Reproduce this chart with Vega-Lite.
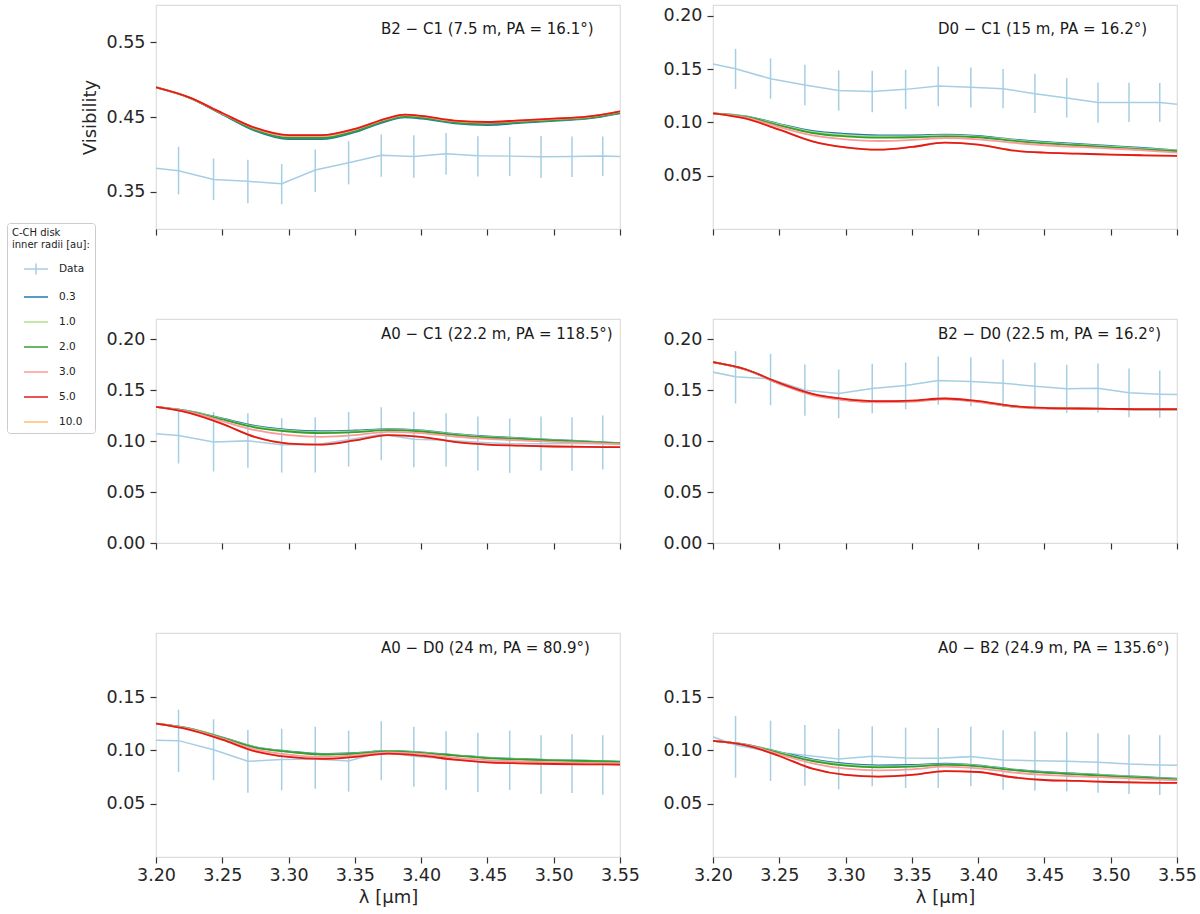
{
"$schema": "https://vega.github.io/schema/vega-lite/v6.json",
"padding": {"left": 5, "top": 4, "right": 5, "bottom": 5},
"datasets": {
"obs": [
{"b":"B2-C1","s":"Data","x":3.1905,"v":0.383,"lo":0.351,"hi":0.415},
{"b":"B2-C1","s":"Data","x":3.217,"v":0.378,"lo":0.3464,"hi":0.41},
{"b":"B2-C1","s":"Data","x":3.2434,"v":0.3664,"lo":0.3389,"hi":0.3944},
{"b":"B2-C1","s":"Data","x":3.2693,"v":0.3638,"lo":0.3344,"hi":0.3927},
{"b":"B2-C1","s":"Data","x":3.2948,"v":0.3607,"lo":0.3331,"hi":0.3869},
{"b":"B2-C1","s":"Data","x":3.3201,"v":0.3789,"lo":0.3496,"hi":0.4064},
{"b":"B2-C1","s":"Data","x":3.3453,"v":0.3887,"lo":0.3598,"hi":0.4176},
{"b":"B2-C1","s":"Data","x":3.3699,"v":0.3989,"lo":0.37,"hi":0.4264},
{"b":"B2-C1","s":"Data","x":3.3945,"v":0.3971,"lo":0.3687,"hi":0.4256},
{"b":"B2-C1","s":"Data","x":3.4188,"v":0.4007,"lo":0.3727,"hi":0.4287},
{"b":"B2-C1","s":"Data","x":3.4428,"v":0.398,"lo":0.3704,"hi":0.4242},
{"b":"B2-C1","s":"Data","x":3.4668,"v":0.3976,"lo":0.3709,"hi":0.4233},
{"b":"B2-C1","s":"Data","x":3.4904,"v":0.3967,"lo":0.3682,"hi":0.4247},
{"b":"B2-C1","s":"Data","x":3.5138,"v":0.3971,"lo":0.3696,"hi":0.4238},
{"b":"B2-C1","s":"Data","x":3.537,"v":0.3976,"lo":0.3709,"hi":0.4238},
{"b":"B2-C1","s":"Data","x":3.56,"v":0.3965,"lo":0.37,"hi":0.423},
{"b":"D0-C1","s":"Data","x":3.1905,"v":0.1571,"lo":0.138,"hi":0.176},
{"b":"D0-C1","s":"Data","x":3.217,"v":0.1502,"lo":0.1312,"hi":0.1689},
{"b":"D0-C1","s":"Data","x":3.2434,"v":0.1409,"lo":0.1221,"hi":0.1599},
{"b":"D0-C1","s":"Data","x":3.2693,"v":0.1349,"lo":0.1159,"hi":0.154},
{"b":"D0-C1","s":"Data","x":3.2948,"v":0.1299,"lo":0.1109,"hi":0.1487},
{"b":"D0-C1","s":"Data","x":3.3201,"v":0.129,"lo":0.1094,"hi":0.1483},
{"b":"D0-C1","s":"Data","x":3.3453,"v":0.1309,"lo":0.1125,"hi":0.1493},
{"b":"D0-C1","s":"Data","x":3.3699,"v":0.134,"lo":0.115,"hi":0.1524},
{"b":"D0-C1","s":"Data","x":3.3945,"v":0.1328,"lo":0.114,"hi":0.1515},
{"b":"D0-C1","s":"Data","x":3.4188,"v":0.1315,"lo":0.1131,"hi":0.1499},
{"b":"D0-C1","s":"Data","x":3.4428,"v":0.1268,"lo":0.1087,"hi":0.1455},
{"b":"D0-C1","s":"Data","x":3.4668,"v":0.1228,"lo":0.1044,"hi":0.1415},
{"b":"D0-C1","s":"Data","x":3.4904,"v":0.1187,"lo":0.0997,"hi":0.1374},
{"b":"D0-C1","s":"Data","x":3.5138,"v":0.1187,"lo":0.1003,"hi":0.1371},
{"b":"D0-C1","s":"Data","x":3.537,"v":0.1187,"lo":0.1003,"hi":0.1368},
{"b":"D0-C1","s":"Data","x":3.56,"v":0.1155,"lo":0.098,"hi":0.135},
{"b":"A0-C1","s":"Data","x":3.1905,"v":0.1082,"lo":0.08,"hi":0.136},
{"b":"A0-C1","s":"Data","x":3.217,"v":0.1056,"lo":0.0781,"hi":0.1327},
{"b":"A0-C1","s":"Data","x":3.2434,"v":0.0993,"lo":0.0702,"hi":0.1288},
{"b":"A0-C1","s":"Data","x":3.2693,"v":0.1003,"lo":0.0738,"hi":0.1275},
{"b":"A0-C1","s":"Data","x":3.2948,"v":0.0964,"lo":0.0692,"hi":0.1226},
{"b":"A0-C1","s":"Data","x":3.3201,"v":0.0964,"lo":0.0692,"hi":0.1236},
{"b":"A0-C1","s":"Data","x":3.3453,"v":0.1013,"lo":0.0751,"hi":0.1288},
{"b":"A0-C1","s":"Data","x":3.3699,"v":0.1069,"lo":0.0813,"hi":0.1334},
{"b":"A0-C1","s":"Data","x":3.3945,"v":0.102,"lo":0.0745,"hi":0.1288},
{"b":"A0-C1","s":"Data","x":3.4188,"v":0.101,"lo":0.0751,"hi":0.1275},
{"b":"A0-C1","s":"Data","x":3.4428,"v":0.099,"lo":0.0712,"hi":0.1242},
{"b":"A0-C1","s":"Data","x":3.4668,"v":0.0974,"lo":0.0689,"hi":0.1223},
{"b":"A0-C1","s":"Data","x":3.4904,"v":0.0974,"lo":0.0709,"hi":0.1242},
{"b":"A0-C1","s":"Data","x":3.5138,"v":0.0977,"lo":0.0709,"hi":0.1236},
{"b":"A0-C1","s":"Data","x":3.537,"v":0.0974,"lo":0.0722,"hi":0.1252},
{"b":"A0-C1","s":"Data","x":3.56,"v":0.0974,"lo":0.07,"hi":0.125},
{"b":"B2-D0","s":"Data","x":3.1905,"v":0.1704,"lo":0.145,"hi":0.195},
{"b":"B2-D0","s":"Data","x":3.217,"v":0.1632,"lo":0.137,"hi":0.1884},
{"b":"B2-D0","s":"Data","x":3.2434,"v":0.1612,"lo":0.1354,"hi":0.1858},
{"b":"B2-D0","s":"Data","x":3.2693,"v":0.1501,"lo":0.1249,"hi":0.1753},
{"b":"B2-D0","s":"Data","x":3.2948,"v":0.1468,"lo":0.1226,"hi":0.1704},
{"b":"B2-D0","s":"Data","x":3.3201,"v":0.1517,"lo":0.1275,"hi":0.176},
{"b":"B2-D0","s":"Data","x":3.3453,"v":0.1547,"lo":0.1314,"hi":0.1773},
{"b":"B2-D0","s":"Data","x":3.3699,"v":0.1596,"lo":0.1357,"hi":0.1832},
{"b":"B2-D0","s":"Data","x":3.3945,"v":0.1586,"lo":0.1344,"hi":0.1825},
{"b":"B2-D0","s":"Data","x":3.4188,"v":0.157,"lo":0.1334,"hi":0.1802},
{"b":"B2-D0","s":"Data","x":3.4428,"v":0.154,"lo":0.1311,"hi":0.1773},
{"b":"B2-D0","s":"Data","x":3.4668,"v":0.1514,"lo":0.1278,"hi":0.175},
{"b":"B2-D0","s":"Data","x":3.4904,"v":0.1521,"lo":0.1282,"hi":0.1763},
{"b":"B2-D0","s":"Data","x":3.5138,"v":0.1475,"lo":0.1236,"hi":0.1714},
{"b":"B2-D0","s":"Data","x":3.537,"v":0.1462,"lo":0.1229,"hi":0.1694},
{"b":"B2-D0","s":"Data","x":3.56,"v":0.1455,"lo":0.122,"hi":0.169},
{"b":"A0-D0","s":"Data","x":3.1905,"v":0.1095,"lo":0.08,"hi":0.139},
{"b":"A0-D0","s":"Data","x":3.217,"v":0.1091,"lo":0.0797,"hi":0.1381},
{"b":"A0-D0","s":"Data","x":3.2434,"v":0.1006,"lo":0.0719,"hi":0.1291},
{"b":"A0-D0","s":"Data","x":3.2693,"v":0.0897,"lo":0.0603,"hi":0.1191},
{"b":"A0-D0","s":"Data","x":3.2948,"v":0.0913,"lo":0.0625,"hi":0.1203},
{"b":"A0-D0","s":"Data","x":3.3201,"v":0.0919,"lo":0.0641,"hi":0.1222},
{"b":"A0-D0","s":"Data","x":3.3453,"v":0.09,"lo":0.0613,"hi":0.1184},
{"b":"A0-D0","s":"Data","x":3.3699,"v":0.0984,"lo":0.0719,"hi":0.1272},
{"b":"A0-D0","s":"Data","x":3.3945,"v":0.0944,"lo":0.0659,"hi":0.1222},
{"b":"A0-D0","s":"Data","x":3.4188,"v":0.0922,"lo":0.0628,"hi":0.1178},
{"b":"A0-D0","s":"Data","x":3.4428,"v":0.0897,"lo":0.0609,"hi":0.1166},
{"b":"A0-D0","s":"Data","x":3.4668,"v":0.0897,"lo":0.0628,"hi":0.1184},
{"b":"A0-D0","s":"Data","x":3.4904,"v":0.0888,"lo":0.0591,"hi":0.1141},
{"b":"A0-D0","s":"Data","x":3.5138,"v":0.0881,"lo":0.06,"hi":0.115},
{"b":"A0-D0","s":"Data","x":3.537,"v":0.0881,"lo":0.0584,"hi":0.1141},
{"b":"A0-D0","s":"Data","x":3.56,"v":0.088,"lo":0.058,"hi":0.114},
{"b":"A0-B2","s":"Data","x":3.1905,"v":0.1169,"lo":0.087,"hi":0.146},
{"b":"A0-B2","s":"Data","x":3.217,"v":0.105,"lo":0.0744,"hi":0.1322},
{"b":"A0-B2","s":"Data","x":3.2434,"v":0.0988,"lo":0.0713,"hi":0.1278},
{"b":"A0-B2","s":"Data","x":3.2693,"v":0.0953,"lo":0.0669,"hi":0.1238},
{"b":"A0-B2","s":"Data","x":3.2948,"v":0.0919,"lo":0.0634,"hi":0.12},
{"b":"A0-B2","s":"Data","x":3.3201,"v":0.0944,"lo":0.0663,"hi":0.1225},
{"b":"A0-B2","s":"Data","x":3.3453,"v":0.0928,"lo":0.0647,"hi":0.1213},
{"b":"A0-B2","s":"Data","x":3.3699,"v":0.0925,"lo":0.0647,"hi":0.1209},
{"b":"A0-B2","s":"Data","x":3.3945,"v":0.0941,"lo":0.0663,"hi":0.1222},
{"b":"A0-B2","s":"Data","x":3.4188,"v":0.0909,"lo":0.0631,"hi":0.1188},
{"b":"A0-B2","s":"Data","x":3.4428,"v":0.0903,"lo":0.0622,"hi":0.1178},
{"b":"A0-B2","s":"Data","x":3.4668,"v":0.0897,"lo":0.0616,"hi":0.1172},
{"b":"A0-B2","s":"Data","x":3.4904,"v":0.0888,"lo":0.0603,"hi":0.1159},
{"b":"A0-B2","s":"Data","x":3.5138,"v":0.0872,"lo":0.0591,"hi":0.1147},
{"b":"A0-B2","s":"Data","x":3.537,"v":0.0863,"lo":0.0581,"hi":0.1141},
{"b":"A0-B2","s":"Data","x":3.56,"v":0.0858,"lo":0.058,"hi":0.114}
],
"mod": [
{"b":"B2-C1","s":"0.3","x":3.2,"v":0.4896},{"b":"B2-C1","s":"0.3","x":3.225,"v":0.4758},{"b":"B2-C1","s":"0.3","x":3.25,"v":0.4535},{"b":"B2-C1","s":"0.3","x":3.275,"v":0.4313},{"b":"B2-C1","s":"0.3","x":3.3,"v":0.4203},{"b":"B2-C1","s":"0.3","x":3.325,"v":0.4203},{"b":"B2-C1","s":"0.3","x":3.35,"v":0.4296},{"b":"B2-C1","s":"0.3","x":3.375,"v":0.4449},{"b":"B2-C1","s":"0.3","x":3.3875,"v":0.4495},{"b":"B2-C1","s":"0.3","x":3.4,"v":0.4479},{"b":"B2-C1","s":"0.3","x":3.425,"v":0.4415},{"b":"B2-C1","s":"0.3","x":3.45,"v":0.4393},{"b":"B2-C1","s":"0.3","x":3.475,"v":0.442},{"b":"B2-C1","s":"0.3","x":3.5,"v":0.4447},{"b":"B2-C1","s":"0.3","x":3.525,"v":0.4477},{"b":"B2-C1","s":"0.3","x":3.55,"v":0.4549},
{"b":"B2-C1","s":"1.0","x":3.2,"v":0.4896},{"b":"B2-C1","s":"1.0","x":3.225,"v":0.476},{"b":"B2-C1","s":"1.0","x":3.25,"v":0.4544},{"b":"B2-C1","s":"1.0","x":3.275,"v":0.4333},{"b":"B2-C1","s":"1.0","x":3.3,"v":0.423},{"b":"B2-C1","s":"1.0","x":3.325,"v":0.423},{"b":"B2-C1","s":"1.0","x":3.35,"v":0.4318},{"b":"B2-C1","s":"1.0","x":3.375,"v":0.4467},{"b":"B2-C1","s":"1.0","x":3.3875,"v":0.4513},{"b":"B2-C1","s":"1.0","x":3.4,"v":0.4497},{"b":"B2-C1","s":"1.0","x":3.425,"v":0.4433},{"b":"B2-C1","s":"1.0","x":3.45,"v":0.4413},{"b":"B2-C1","s":"1.0","x":3.475,"v":0.4438},{"b":"B2-C1","s":"1.0","x":3.5,"v":0.4463},{"b":"B2-C1","s":"1.0","x":3.525,"v":0.449},{"b":"B2-C1","s":"1.0","x":3.55,"v":0.4562},
{"b":"B2-C1","s":"2.0","x":3.2,"v":0.4896},{"b":"B2-C1","s":"2.0","x":3.225,"v":0.4759},{"b":"B2-C1","s":"2.0","x":3.25,"v":0.454},{"b":"B2-C1","s":"2.0","x":3.275,"v":0.4325},{"b":"B2-C1","s":"2.0","x":3.3,"v":0.4219},{"b":"B2-C1","s":"2.0","x":3.325,"v":0.4219},{"b":"B2-C1","s":"2.0","x":3.35,"v":0.4309},{"b":"B2-C1","s":"2.0","x":3.375,"v":0.446},{"b":"B2-C1","s":"2.0","x":3.3875,"v":0.4506},{"b":"B2-C1","s":"2.0","x":3.4,"v":0.449},{"b":"B2-C1","s":"2.0","x":3.425,"v":0.4426},{"b":"B2-C1","s":"2.0","x":3.45,"v":0.4405},{"b":"B2-C1","s":"2.0","x":3.475,"v":0.4431},{"b":"B2-C1","s":"2.0","x":3.5,"v":0.4456},{"b":"B2-C1","s":"2.0","x":3.525,"v":0.4485},{"b":"B2-C1","s":"2.0","x":3.55,"v":0.4557},
{"b":"B2-C1","s":"3.0","x":3.2,"v":0.4896},{"b":"B2-C1","s":"3.0","x":3.225,"v":0.4761},{"b":"B2-C1","s":"3.0","x":3.25,"v":0.4549},{"b":"B2-C1","s":"3.0","x":3.275,"v":0.4345},{"b":"B2-C1","s":"3.0","x":3.3,"v":0.4245},{"b":"B2-C1","s":"3.0","x":3.325,"v":0.4245},{"b":"B2-C1","s":"3.0","x":3.35,"v":0.4331},{"b":"B2-C1","s":"3.0","x":3.375,"v":0.4478},{"b":"B2-C1","s":"3.0","x":3.3875,"v":0.4524},{"b":"B2-C1","s":"3.0","x":3.4,"v":0.4508},{"b":"B2-C1","s":"3.0","x":3.425,"v":0.4444},{"b":"B2-C1","s":"3.0","x":3.45,"v":0.4425},{"b":"B2-C1","s":"3.0","x":3.475,"v":0.4449},{"b":"B2-C1","s":"3.0","x":3.5,"v":0.4472},{"b":"B2-C1","s":"3.0","x":3.525,"v":0.4499},{"b":"B2-C1","s":"3.0","x":3.55,"v":0.4571},
{"b":"B2-C1","s":"10.0","x":3.2,"v":0.4896},{"b":"B2-C1","s":"10.0","x":3.225,"v":0.4762},{"b":"B2-C1","s":"10.0","x":3.25,"v":0.4553},{"b":"B2-C1","s":"10.0","x":3.275,"v":0.4353},{"b":"B2-C1","s":"10.0","x":3.3,"v":0.4256},{"b":"B2-C1","s":"10.0","x":3.325,"v":0.4256},{"b":"B2-C1","s":"10.0","x":3.35,"v":0.434},{"b":"B2-C1","s":"10.0","x":3.375,"v":0.4485},{"b":"B2-C1","s":"10.0","x":3.3875,"v":0.4531},{"b":"B2-C1","s":"10.0","x":3.4,"v":0.4515},{"b":"B2-C1","s":"10.0","x":3.425,"v":0.4451},{"b":"B2-C1","s":"10.0","x":3.45,"v":0.4433},{"b":"B2-C1","s":"10.0","x":3.475,"v":0.4456},{"b":"B2-C1","s":"10.0","x":3.5,"v":0.4478},{"b":"B2-C1","s":"10.0","x":3.525,"v":0.4504},{"b":"B2-C1","s":"10.0","x":3.55,"v":0.4576},
{"b":"B2-C1","s":"5.0","x":3.2,"v":0.4896},{"b":"B2-C1","s":"5.0","x":3.225,"v":0.4762},{"b":"B2-C1","s":"5.0","x":3.25,"v":0.4553},{"b":"B2-C1","s":"5.0","x":3.275,"v":0.4353},{"b":"B2-C1","s":"5.0","x":3.3,"v":0.4256},{"b":"B2-C1","s":"5.0","x":3.325,"v":0.4256},{"b":"B2-C1","s":"5.0","x":3.35,"v":0.434},{"b":"B2-C1","s":"5.0","x":3.375,"v":0.4485},{"b":"B2-C1","s":"5.0","x":3.3875,"v":0.4531},{"b":"B2-C1","s":"5.0","x":3.4,"v":0.4515},{"b":"B2-C1","s":"5.0","x":3.425,"v":0.4451},{"b":"B2-C1","s":"5.0","x":3.45,"v":0.4433},{"b":"B2-C1","s":"5.0","x":3.475,"v":0.4456},{"b":"B2-C1","s":"5.0","x":3.5,"v":0.4478},{"b":"B2-C1","s":"5.0","x":3.525,"v":0.4504},{"b":"B2-C1","s":"5.0","x":3.55,"v":0.4576},
{"b":"D0-C1","s":"0.3","x":3.2,"v":0.1084},{"b":"D0-C1","s":"0.3","x":3.225,"v":0.1056},{"b":"D0-C1","s":"0.3","x":3.25,"v":0.0984},{"b":"D0-C1","s":"0.3","x":3.275,"v":0.0919},{"b":"D0-C1","s":"0.3","x":3.3,"v":0.0891},{"b":"D0-C1","s":"0.3","x":3.325,"v":0.0878},{"b":"D0-C1","s":"0.3","x":3.35,"v":0.0878},{"b":"D0-C1","s":"0.3","x":3.375,"v":0.0885},{"b":"D0-C1","s":"0.3","x":3.4,"v":0.0872},{"b":"D0-C1","s":"0.3","x":3.425,"v":0.0841},{"b":"D0-C1","s":"0.3","x":3.45,"v":0.0816},{"b":"D0-C1","s":"0.3","x":3.475,"v":0.0797},{"b":"D0-C1","s":"0.3","x":3.5,"v":0.0779},{"b":"D0-C1","s":"0.3","x":3.525,"v":0.076},{"b":"D0-C1","s":"0.3","x":3.55,"v":0.0738},
{"b":"D0-C1","s":"1.0","x":3.2,"v":0.1084},{"b":"D0-C1","s":"1.0","x":3.225,"v":0.1053},{"b":"D0-C1","s":"1.0","x":3.25,"v":0.0978},{"b":"D0-C1","s":"1.0","x":3.275,"v":0.091},{"b":"D0-C1","s":"1.0","x":3.3,"v":0.088},{"b":"D0-C1","s":"1.0","x":3.325,"v":0.0867},{"b":"D0-C1","s":"1.0","x":3.35,"v":0.0869},{"b":"D0-C1","s":"1.0","x":3.375,"v":0.0877},{"b":"D0-C1","s":"1.0","x":3.4,"v":0.0866},{"b":"D0-C1","s":"1.0","x":3.425,"v":0.0835},{"b":"D0-C1","s":"1.0","x":3.45,"v":0.081},{"b":"D0-C1","s":"1.0","x":3.475,"v":0.0791},{"b":"D0-C1","s":"1.0","x":3.5,"v":0.0772},{"b":"D0-C1","s":"1.0","x":3.525,"v":0.0754},{"b":"D0-C1","s":"1.0","x":3.55,"v":0.0734},
{"b":"D0-C1","s":"2.0","x":3.2,"v":0.1084},{"b":"D0-C1","s":"2.0","x":3.225,"v":0.105},{"b":"D0-C1","s":"2.0","x":3.25,"v":0.0972},{"b":"D0-C1","s":"2.0","x":3.275,"v":0.09},{"b":"D0-C1","s":"2.0","x":3.3,"v":0.0869},{"b":"D0-C1","s":"2.0","x":3.325,"v":0.0856},{"b":"D0-C1","s":"2.0","x":3.35,"v":0.086},{"b":"D0-C1","s":"2.0","x":3.375,"v":0.0869},{"b":"D0-C1","s":"2.0","x":3.4,"v":0.086},{"b":"D0-C1","s":"2.0","x":3.425,"v":0.0828},{"b":"D0-C1","s":"2.0","x":3.45,"v":0.0803},{"b":"D0-C1","s":"2.0","x":3.475,"v":0.0785},{"b":"D0-C1","s":"2.0","x":3.5,"v":0.0766},{"b":"D0-C1","s":"2.0","x":3.525,"v":0.0747},{"b":"D0-C1","s":"2.0","x":3.55,"v":0.0729},
{"b":"D0-C1","s":"3.0","x":3.2,"v":0.1084},{"b":"D0-C1","s":"3.0","x":3.225,"v":0.1044},{"b":"D0-C1","s":"3.0","x":3.25,"v":0.0956},{"b":"D0-C1","s":"3.0","x":3.275,"v":0.0878},{"b":"D0-C1","s":"3.0","x":3.3,"v":0.0841},{"b":"D0-C1","s":"3.0","x":3.325,"v":0.0825},{"b":"D0-C1","s":"3.0","x":3.35,"v":0.0835},{"b":"D0-C1","s":"3.0","x":3.375,"v":0.0853},{"b":"D0-C1","s":"3.0","x":3.4,"v":0.0841},{"b":"D0-C1","s":"3.0","x":3.425,"v":0.081},{"b":"D0-C1","s":"3.0","x":3.45,"v":0.0785},{"b":"D0-C1","s":"3.0","x":3.475,"v":0.0769},{"b":"D0-C1","s":"3.0","x":3.5,"v":0.0754},{"b":"D0-C1","s":"3.0","x":3.525,"v":0.0738},{"b":"D0-C1","s":"3.0","x":3.55,"v":0.0716},
{"b":"D0-C1","s":"10.0","x":3.2,"v":0.1084},{"b":"D0-C1","s":"10.0","x":3.225,"v":0.1034},{"b":"D0-C1","s":"10.0","x":3.25,"v":0.0931},{"b":"D0-C1","s":"10.0","x":3.275,"v":0.0822},{"b":"D0-C1","s":"10.0","x":3.3,"v":0.0766},{"b":"D0-C1","s":"10.0","x":3.325,"v":0.0744},{"b":"D0-C1","s":"10.0","x":3.35,"v":0.0769},{"b":"D0-C1","s":"10.0","x":3.375,"v":0.081},{"b":"D0-C1","s":"10.0","x":3.4,"v":0.0791},{"b":"D0-C1","s":"10.0","x":3.425,"v":0.0738},{"b":"D0-C1","s":"10.0","x":3.45,"v":0.0716},{"b":"D0-C1","s":"10.0","x":3.475,"v":0.0707},{"b":"D0-C1","s":"10.0","x":3.5,"v":0.0697},{"b":"D0-C1","s":"10.0","x":3.525,"v":0.0691},{"b":"D0-C1","s":"10.0","x":3.55,"v":0.0685},
{"b":"D0-C1","s":"5.0","x":3.2,"v":0.1084},{"b":"D0-C1","s":"5.0","x":3.225,"v":0.1034},{"b":"D0-C1","s":"5.0","x":3.25,"v":0.0931},{"b":"D0-C1","s":"5.0","x":3.275,"v":0.0822},{"b":"D0-C1","s":"5.0","x":3.3,"v":0.0766},{"b":"D0-C1","s":"5.0","x":3.325,"v":0.0744},{"b":"D0-C1","s":"5.0","x":3.35,"v":0.0769},{"b":"D0-C1","s":"5.0","x":3.375,"v":0.081},{"b":"D0-C1","s":"5.0","x":3.4,"v":0.0791},{"b":"D0-C1","s":"5.0","x":3.425,"v":0.0738},{"b":"D0-C1","s":"5.0","x":3.45,"v":0.0716},{"b":"D0-C1","s":"5.0","x":3.475,"v":0.0707},{"b":"D0-C1","s":"5.0","x":3.5,"v":0.0697},{"b":"D0-C1","s":"5.0","x":3.525,"v":0.0691},{"b":"D0-C1","s":"5.0","x":3.55,"v":0.0685},
{"b":"A0-C1","s":"0.3","x":3.2,"v":0.1337},{"b":"A0-C1","s":"0.3","x":3.225,"v":0.1295},{"b":"A0-C1","s":"0.3","x":3.25,"v":0.1223},{"b":"A0-C1","s":"0.3","x":3.275,"v":0.1151},{"b":"A0-C1","s":"0.3","x":3.3,"v":0.1111},{"b":"A0-C1","s":"0.3","x":3.325,"v":0.1098},{"b":"A0-C1","s":"0.3","x":3.35,"v":0.1105},{"b":"A0-C1","s":"0.3","x":3.375,"v":0.1118},{"b":"A0-C1","s":"0.3","x":3.4,"v":0.1105},{"b":"A0-C1","s":"0.3","x":3.425,"v":0.1072},{"b":"A0-C1","s":"0.3","x":3.45,"v":0.1046},{"b":"A0-C1","s":"0.3","x":3.475,"v":0.1029},{"b":"A0-C1","s":"0.3","x":3.5,"v":0.1013},{"b":"A0-C1","s":"0.3","x":3.525,"v":0.0997},{"b":"A0-C1","s":"0.3","x":3.55,"v":0.098},
{"b":"A0-C1","s":"1.0","x":3.2,"v":0.1337},{"b":"A0-C1","s":"1.0","x":3.225,"v":0.1293},{"b":"A0-C1","s":"1.0","x":3.25,"v":0.1218},{"b":"A0-C1","s":"1.0","x":3.275,"v":0.1142},{"b":"A0-C1","s":"1.0","x":3.3,"v":0.1103},{"b":"A0-C1","s":"1.0","x":3.325,"v":0.1088},{"b":"A0-C1","s":"1.0","x":3.35,"v":0.1096},{"b":"A0-C1","s":"1.0","x":3.375,"v":0.1113},{"b":"A0-C1","s":"1.0","x":3.4,"v":0.11},{"b":"A0-C1","s":"1.0","x":3.425,"v":0.1067},{"b":"A0-C1","s":"1.0","x":3.45,"v":0.1041},{"b":"A0-C1","s":"1.0","x":3.475,"v":0.1026},{"b":"A0-C1","s":"1.0","x":3.5,"v":0.101},{"b":"A0-C1","s":"1.0","x":3.525,"v":0.0995},{"b":"A0-C1","s":"1.0","x":3.55,"v":0.0978},
{"b":"A0-C1","s":"2.0","x":3.2,"v":0.1337},{"b":"A0-C1","s":"2.0","x":3.225,"v":0.1291},{"b":"A0-C1","s":"2.0","x":3.25,"v":0.1213},{"b":"A0-C1","s":"2.0","x":3.275,"v":0.1134},{"b":"A0-C1","s":"2.0","x":3.3,"v":0.1095},{"b":"A0-C1","s":"2.0","x":3.325,"v":0.1079},{"b":"A0-C1","s":"2.0","x":3.35,"v":0.1088},{"b":"A0-C1","s":"2.0","x":3.375,"v":0.1108},{"b":"A0-C1","s":"2.0","x":3.4,"v":0.1095},{"b":"A0-C1","s":"2.0","x":3.425,"v":0.1062},{"b":"A0-C1","s":"2.0","x":3.45,"v":0.1036},{"b":"A0-C1","s":"2.0","x":3.475,"v":0.1023},{"b":"A0-C1","s":"2.0","x":3.5,"v":0.1007},{"b":"A0-C1","s":"2.0","x":3.525,"v":0.0993},{"b":"A0-C1","s":"2.0","x":3.55,"v":0.0977},
{"b":"A0-C1","s":"3.0","x":3.2,"v":0.1337},{"b":"A0-C1","s":"3.0","x":3.225,"v":0.1288},{"b":"A0-C1","s":"3.0","x":3.25,"v":0.1196},{"b":"A0-C1","s":"3.0","x":3.275,"v":0.1108},{"b":"A0-C1","s":"3.0","x":3.3,"v":0.1059},{"b":"A0-C1","s":"3.0","x":3.325,"v":0.1043},{"b":"A0-C1","s":"3.0","x":3.35,"v":0.1059},{"b":"A0-C1","s":"3.0","x":3.375,"v":0.1092},{"b":"A0-C1","s":"3.0","x":3.4,"v":0.1079},{"b":"A0-C1","s":"3.0","x":3.425,"v":0.1046},{"b":"A0-C1","s":"3.0","x":3.45,"v":0.1023},{"b":"A0-C1","s":"3.0","x":3.475,"v":0.1007},{"b":"A0-C1","s":"3.0","x":3.5,"v":0.0993},{"b":"A0-C1","s":"3.0","x":3.525,"v":0.0984},{"b":"A0-C1","s":"3.0","x":3.55,"v":0.0971},
{"b":"A0-C1","s":"10.0","x":3.2,"v":0.1337},{"b":"A0-C1","s":"10.0","x":3.225,"v":0.1278},{"b":"A0-C1","s":"10.0","x":3.25,"v":0.117},{"b":"A0-C1","s":"10.0","x":3.275,"v":0.1039},{"b":"A0-C1","s":"10.0","x":3.3,"v":0.0977},{"b":"A0-C1","s":"10.0","x":3.325,"v":0.0967},{"b":"A0-C1","s":"10.0","x":3.35,"v":0.1007},{"b":"A0-C1","s":"10.0","x":3.375,"v":0.1059},{"b":"A0-C1","s":"10.0","x":3.4,"v":0.1043},{"b":"A0-C1","s":"10.0","x":3.425,"v":0.0993},{"b":"A0-C1","s":"10.0","x":3.45,"v":0.0967},{"b":"A0-C1","s":"10.0","x":3.475,"v":0.0957},{"b":"A0-C1","s":"10.0","x":3.5,"v":0.0948},{"b":"A0-C1","s":"10.0","x":3.525,"v":0.0944},{"b":"A0-C1","s":"10.0","x":3.55,"v":0.0941},
{"b":"A0-C1","s":"5.0","x":3.2,"v":0.1337},{"b":"A0-C1","s":"5.0","x":3.225,"v":0.1278},{"b":"A0-C1","s":"5.0","x":3.25,"v":0.117},{"b":"A0-C1","s":"5.0","x":3.275,"v":0.1039},{"b":"A0-C1","s":"5.0","x":3.3,"v":0.0977},{"b":"A0-C1","s":"5.0","x":3.325,"v":0.0967},{"b":"A0-C1","s":"5.0","x":3.35,"v":0.1007},{"b":"A0-C1","s":"5.0","x":3.375,"v":0.1059},{"b":"A0-C1","s":"5.0","x":3.4,"v":0.1043},{"b":"A0-C1","s":"5.0","x":3.425,"v":0.0993},{"b":"A0-C1","s":"5.0","x":3.45,"v":0.0967},{"b":"A0-C1","s":"5.0","x":3.475,"v":0.0957},{"b":"A0-C1","s":"5.0","x":3.5,"v":0.0948},{"b":"A0-C1","s":"5.0","x":3.525,"v":0.0944},{"b":"A0-C1","s":"5.0","x":3.55,"v":0.0941},
{"b":"B2-D0","s":"0.3","x":3.2,"v":0.1776},{"b":"B2-D0","s":"0.3","x":3.225,"v":0.1702},{"b":"B2-D0","s":"0.3","x":3.25,"v":0.1568},{"b":"B2-D0","s":"0.3","x":3.275,"v":0.1459},{"b":"B2-D0","s":"0.3","x":3.3,"v":0.1407},{"b":"B2-D0","s":"0.3","x":3.325,"v":0.1387},{"b":"B2-D0","s":"0.3","x":3.35,"v":0.1394},{"b":"B2-D0","s":"0.3","x":3.375,"v":0.1415},{"b":"B2-D0","s":"0.3","x":3.4,"v":0.1389},{"b":"B2-D0","s":"0.3","x":3.425,"v":0.1343},{"b":"B2-D0","s":"0.3","x":3.45,"v":0.1324},{"b":"B2-D0","s":"0.3","x":3.475,"v":0.1319},{"b":"B2-D0","s":"0.3","x":3.5,"v":0.1316},{"b":"B2-D0","s":"0.3","x":3.525,"v":0.1312},{"b":"B2-D0","s":"0.3","x":3.55,"v":0.1312},
{"b":"B2-D0","s":"1.0","x":3.2,"v":0.1776},{"b":"B2-D0","s":"1.0","x":3.225,"v":0.1702},{"b":"B2-D0","s":"1.0","x":3.25,"v":0.1568},{"b":"B2-D0","s":"1.0","x":3.275,"v":0.1459},{"b":"B2-D0","s":"1.0","x":3.3,"v":0.1407},{"b":"B2-D0","s":"1.0","x":3.325,"v":0.1387},{"b":"B2-D0","s":"1.0","x":3.35,"v":0.1394},{"b":"B2-D0","s":"1.0","x":3.375,"v":0.1415},{"b":"B2-D0","s":"1.0","x":3.4,"v":0.1389},{"b":"B2-D0","s":"1.0","x":3.425,"v":0.1343},{"b":"B2-D0","s":"1.0","x":3.45,"v":0.1324},{"b":"B2-D0","s":"1.0","x":3.475,"v":0.1319},{"b":"B2-D0","s":"1.0","x":3.5,"v":0.1316},{"b":"B2-D0","s":"1.0","x":3.525,"v":0.1312},{"b":"B2-D0","s":"1.0","x":3.55,"v":0.1312},
{"b":"B2-D0","s":"2.0","x":3.2,"v":0.1776},{"b":"B2-D0","s":"2.0","x":3.225,"v":0.1702},{"b":"B2-D0","s":"2.0","x":3.25,"v":0.1568},{"b":"B2-D0","s":"2.0","x":3.275,"v":0.1459},{"b":"B2-D0","s":"2.0","x":3.3,"v":0.1407},{"b":"B2-D0","s":"2.0","x":3.325,"v":0.1387},{"b":"B2-D0","s":"2.0","x":3.35,"v":0.1394},{"b":"B2-D0","s":"2.0","x":3.375,"v":0.1415},{"b":"B2-D0","s":"2.0","x":3.4,"v":0.1389},{"b":"B2-D0","s":"2.0","x":3.425,"v":0.1343},{"b":"B2-D0","s":"2.0","x":3.45,"v":0.1324},{"b":"B2-D0","s":"2.0","x":3.475,"v":0.1319},{"b":"B2-D0","s":"2.0","x":3.5,"v":0.1316},{"b":"B2-D0","s":"2.0","x":3.525,"v":0.1312},{"b":"B2-D0","s":"2.0","x":3.55,"v":0.1312},
{"b":"B2-D0","s":"3.0","x":3.2,"v":0.1776},{"b":"B2-D0","s":"3.0","x":3.225,"v":0.1699},{"b":"B2-D0","s":"3.0","x":3.25,"v":0.1563},{"b":"B2-D0","s":"3.0","x":3.275,"v":0.1452},{"b":"B2-D0","s":"3.0","x":3.3,"v":0.14},{"b":"B2-D0","s":"3.0","x":3.325,"v":0.1381},{"b":"B2-D0","s":"3.0","x":3.35,"v":0.1389},{"b":"B2-D0","s":"3.0","x":3.375,"v":0.1411},{"b":"B2-D0","s":"3.0","x":3.4,"v":0.1385},{"b":"B2-D0","s":"3.0","x":3.425,"v":0.1339},{"b":"B2-D0","s":"3.0","x":3.45,"v":0.1321},{"b":"B2-D0","s":"3.0","x":3.475,"v":0.1316},{"b":"B2-D0","s":"3.0","x":3.5,"v":0.1314},{"b":"B2-D0","s":"3.0","x":3.525,"v":0.131},{"b":"B2-D0","s":"3.0","x":3.55,"v":0.131},
{"b":"B2-D0","s":"10.0","x":3.2,"v":0.1776},{"b":"B2-D0","s":"10.0","x":3.225,"v":0.1704},{"b":"B2-D0","s":"10.0","x":3.25,"v":0.1573},{"b":"B2-D0","s":"10.0","x":3.275,"v":0.1465},{"b":"B2-D0","s":"10.0","x":3.3,"v":0.1413},{"b":"B2-D0","s":"10.0","x":3.325,"v":0.1393},{"b":"B2-D0","s":"10.0","x":3.35,"v":0.1399},{"b":"B2-D0","s":"10.0","x":3.375,"v":0.1419},{"b":"B2-D0","s":"10.0","x":3.4,"v":0.1393},{"b":"B2-D0","s":"10.0","x":3.425,"v":0.1347},{"b":"B2-D0","s":"10.0","x":3.45,"v":0.1327},{"b":"B2-D0","s":"10.0","x":3.475,"v":0.1321},{"b":"B2-D0","s":"10.0","x":3.5,"v":0.1318},{"b":"B2-D0","s":"10.0","x":3.525,"v":0.1314},{"b":"B2-D0","s":"10.0","x":3.55,"v":0.1314},
{"b":"B2-D0","s":"5.0","x":3.2,"v":0.1776},{"b":"B2-D0","s":"5.0","x":3.225,"v":0.1704},{"b":"B2-D0","s":"5.0","x":3.25,"v":0.1573},{"b":"B2-D0","s":"5.0","x":3.275,"v":0.1465},{"b":"B2-D0","s":"5.0","x":3.3,"v":0.1413},{"b":"B2-D0","s":"5.0","x":3.325,"v":0.1393},{"b":"B2-D0","s":"5.0","x":3.35,"v":0.1399},{"b":"B2-D0","s":"5.0","x":3.375,"v":0.1419},{"b":"B2-D0","s":"5.0","x":3.4,"v":0.1393},{"b":"B2-D0","s":"5.0","x":3.425,"v":0.1347},{"b":"B2-D0","s":"5.0","x":3.45,"v":0.1327},{"b":"B2-D0","s":"5.0","x":3.475,"v":0.1321},{"b":"B2-D0","s":"5.0","x":3.5,"v":0.1318},{"b":"B2-D0","s":"5.0","x":3.525,"v":0.1314},{"b":"B2-D0","s":"5.0","x":3.55,"v":0.1314},
{"b":"A0-D0","s":"0.3","x":3.2,"v":0.125},{"b":"A0-D0","s":"0.3","x":3.225,"v":0.1206},{"b":"A0-D0","s":"0.3","x":3.25,"v":0.1122},{"b":"A0-D0","s":"0.3","x":3.275,"v":0.1031},{"b":"A0-D0","s":"0.3","x":3.3,"v":0.0991},{"b":"A0-D0","s":"0.3","x":3.325,"v":0.0966},{"b":"A0-D0","s":"0.3","x":3.35,"v":0.0975},{"b":"A0-D0","s":"0.3","x":3.375,"v":0.0994},{"b":"A0-D0","s":"0.3","x":3.4,"v":0.0981},{"b":"A0-D0","s":"0.3","x":3.425,"v":0.0956},{"b":"A0-D0","s":"0.3","x":3.45,"v":0.0931},{"b":"A0-D0","s":"0.3","x":3.475,"v":0.0919},{"b":"A0-D0","s":"0.3","x":3.5,"v":0.0909},{"b":"A0-D0","s":"0.3","x":3.525,"v":0.0903},{"b":"A0-D0","s":"0.3","x":3.55,"v":0.0894},
{"b":"A0-D0","s":"1.0","x":3.2,"v":0.125},{"b":"A0-D0","s":"1.0","x":3.225,"v":0.1205},{"b":"A0-D0","s":"1.0","x":3.25,"v":0.112},{"b":"A0-D0","s":"1.0","x":3.275,"v":0.1028},{"b":"A0-D0","s":"1.0","x":3.3,"v":0.0988},{"b":"A0-D0","s":"1.0","x":3.325,"v":0.0963},{"b":"A0-D0","s":"1.0","x":3.35,"v":0.0972},{"b":"A0-D0","s":"1.0","x":3.375,"v":0.0992},{"b":"A0-D0","s":"1.0","x":3.4,"v":0.0979},{"b":"A0-D0","s":"1.0","x":3.425,"v":0.0954},{"b":"A0-D0","s":"1.0","x":3.45,"v":0.0929},{"b":"A0-D0","s":"1.0","x":3.475,"v":0.0917},{"b":"A0-D0","s":"1.0","x":3.5,"v":0.0907},{"b":"A0-D0","s":"1.0","x":3.525,"v":0.0901},{"b":"A0-D0","s":"1.0","x":3.55,"v":0.0892},
{"b":"A0-D0","s":"2.0","x":3.2,"v":0.125},{"b":"A0-D0","s":"2.0","x":3.225,"v":0.1204},{"b":"A0-D0","s":"2.0","x":3.25,"v":0.1118},{"b":"A0-D0","s":"2.0","x":3.275,"v":0.1026},{"b":"A0-D0","s":"2.0","x":3.3,"v":0.0986},{"b":"A0-D0","s":"2.0","x":3.325,"v":0.0961},{"b":"A0-D0","s":"2.0","x":3.35,"v":0.097},{"b":"A0-D0","s":"2.0","x":3.375,"v":0.099},{"b":"A0-D0","s":"2.0","x":3.4,"v":0.0977},{"b":"A0-D0","s":"2.0","x":3.425,"v":0.0952},{"b":"A0-D0","s":"2.0","x":3.45,"v":0.0927},{"b":"A0-D0","s":"2.0","x":3.475,"v":0.0915},{"b":"A0-D0","s":"2.0","x":3.5,"v":0.0905},{"b":"A0-D0","s":"2.0","x":3.525,"v":0.09},{"b":"A0-D0","s":"2.0","x":3.55,"v":0.0891},
{"b":"A0-D0","s":"3.0","x":3.2,"v":0.125},{"b":"A0-D0","s":"3.0","x":3.225,"v":0.12},{"b":"A0-D0","s":"3.0","x":3.25,"v":0.1109},{"b":"A0-D0","s":"3.0","x":3.275,"v":0.1009},{"b":"A0-D0","s":"3.0","x":3.3,"v":0.0959},{"b":"A0-D0","s":"3.0","x":3.325,"v":0.0938},{"b":"A0-D0","s":"3.0","x":3.35,"v":0.0953},{"b":"A0-D0","s":"3.0","x":3.375,"v":0.0981},{"b":"A0-D0","s":"3.0","x":3.4,"v":0.0966},{"b":"A0-D0","s":"3.0","x":3.425,"v":0.0931},{"b":"A0-D0","s":"3.0","x":3.45,"v":0.0909},{"b":"A0-D0","s":"3.0","x":3.475,"v":0.0897},{"b":"A0-D0","s":"3.0","x":3.5,"v":0.0888},{"b":"A0-D0","s":"3.0","x":3.525,"v":0.0881},{"b":"A0-D0","s":"3.0","x":3.55,"v":0.0878},
{"b":"A0-D0","s":"10.0","x":3.2,"v":0.125},{"b":"A0-D0","s":"10.0","x":3.225,"v":0.1194},{"b":"A0-D0","s":"10.0","x":3.25,"v":0.11},{"b":"A0-D0","s":"10.0","x":3.275,"v":0.0991},{"b":"A0-D0","s":"10.0","x":3.3,"v":0.0938},{"b":"A0-D0","s":"10.0","x":3.325,"v":0.0919},{"b":"A0-D0","s":"10.0","x":3.35,"v":0.0938},{"b":"A0-D0","s":"10.0","x":3.375,"v":0.0969},{"b":"A0-D0","s":"10.0","x":3.4,"v":0.095},{"b":"A0-D0","s":"10.0","x":3.425,"v":0.0913},{"b":"A0-D0","s":"10.0","x":3.45,"v":0.0888},{"b":"A0-D0","s":"10.0","x":3.475,"v":0.0878},{"b":"A0-D0","s":"10.0","x":3.5,"v":0.0872},{"b":"A0-D0","s":"10.0","x":3.525,"v":0.0869},{"b":"A0-D0","s":"10.0","x":3.55,"v":0.0866},
{"b":"A0-D0","s":"5.0","x":3.2,"v":0.125},{"b":"A0-D0","s":"5.0","x":3.225,"v":0.1194},{"b":"A0-D0","s":"5.0","x":3.25,"v":0.11},{"b":"A0-D0","s":"5.0","x":3.275,"v":0.0991},{"b":"A0-D0","s":"5.0","x":3.3,"v":0.0938},{"b":"A0-D0","s":"5.0","x":3.325,"v":0.0919},{"b":"A0-D0","s":"5.0","x":3.35,"v":0.0938},{"b":"A0-D0","s":"5.0","x":3.375,"v":0.0969},{"b":"A0-D0","s":"5.0","x":3.4,"v":0.095},{"b":"A0-D0","s":"5.0","x":3.425,"v":0.0913},{"b":"A0-D0","s":"5.0","x":3.45,"v":0.0888},{"b":"A0-D0","s":"5.0","x":3.475,"v":0.0878},{"b":"A0-D0","s":"5.0","x":3.5,"v":0.0872},{"b":"A0-D0","s":"5.0","x":3.525,"v":0.0869},{"b":"A0-D0","s":"5.0","x":3.55,"v":0.0866},
{"b":"A0-B2","s":"0.3","x":3.2,"v":0.1088},{"b":"A0-B2","s":"0.3","x":3.225,"v":0.1053},{"b":"A0-B2","s":"0.3","x":3.25,"v":0.0984},{"b":"A0-B2","s":"0.3","x":3.275,"v":0.0916},{"b":"A0-B2","s":"0.3","x":3.3,"v":0.0875},{"b":"A0-B2","s":"0.3","x":3.325,"v":0.0859},{"b":"A0-B2","s":"0.3","x":3.35,"v":0.0863},{"b":"A0-B2","s":"0.3","x":3.375,"v":0.0875},{"b":"A0-B2","s":"0.3","x":3.4,"v":0.0859},{"b":"A0-B2","s":"0.3","x":3.425,"v":0.0822},{"b":"A0-B2","s":"0.3","x":3.45,"v":0.0797},{"b":"A0-B2","s":"0.3","x":3.475,"v":0.0781},{"b":"A0-B2","s":"0.3","x":3.5,"v":0.0766},{"b":"A0-B2","s":"0.3","x":3.525,"v":0.075},{"b":"A0-B2","s":"0.3","x":3.55,"v":0.0734},
{"b":"A0-B2","s":"1.0","x":3.2,"v":0.1088},{"b":"A0-B2","s":"1.0","x":3.225,"v":0.1052},{"b":"A0-B2","s":"1.0","x":3.25,"v":0.098},{"b":"A0-B2","s":"1.0","x":3.275,"v":0.0908},{"b":"A0-B2","s":"1.0","x":3.3,"v":0.0866},{"b":"A0-B2","s":"1.0","x":3.325,"v":0.085},{"b":"A0-B2","s":"1.0","x":3.35,"v":0.0855},{"b":"A0-B2","s":"1.0","x":3.375,"v":0.0869},{"b":"A0-B2","s":"1.0","x":3.4,"v":0.0855},{"b":"A0-B2","s":"1.0","x":3.425,"v":0.0819},{"b":"A0-B2","s":"1.0","x":3.45,"v":0.0794},{"b":"A0-B2","s":"1.0","x":3.475,"v":0.0778},{"b":"A0-B2","s":"1.0","x":3.5,"v":0.0763},{"b":"A0-B2","s":"1.0","x":3.525,"v":0.0747},{"b":"A0-B2","s":"1.0","x":3.55,"v":0.0731},
{"b":"A0-B2","s":"2.0","x":3.2,"v":0.1088},{"b":"A0-B2","s":"2.0","x":3.225,"v":0.105},{"b":"A0-B2","s":"2.0","x":3.25,"v":0.0975},{"b":"A0-B2","s":"2.0","x":3.275,"v":0.09},{"b":"A0-B2","s":"2.0","x":3.3,"v":0.0856},{"b":"A0-B2","s":"2.0","x":3.325,"v":0.0841},{"b":"A0-B2","s":"2.0","x":3.35,"v":0.0847},{"b":"A0-B2","s":"2.0","x":3.375,"v":0.0863},{"b":"A0-B2","s":"2.0","x":3.4,"v":0.085},{"b":"A0-B2","s":"2.0","x":3.425,"v":0.0816},{"b":"A0-B2","s":"2.0","x":3.45,"v":0.0791},{"b":"A0-B2","s":"2.0","x":3.475,"v":0.0775},{"b":"A0-B2","s":"2.0","x":3.5,"v":0.0759},{"b":"A0-B2","s":"2.0","x":3.525,"v":0.0744},{"b":"A0-B2","s":"2.0","x":3.55,"v":0.0728},
{"b":"A0-B2","s":"3.0","x":3.2,"v":0.1088},{"b":"A0-B2","s":"3.0","x":3.225,"v":0.105},{"b":"A0-B2","s":"3.0","x":3.25,"v":0.0963},{"b":"A0-B2","s":"3.0","x":3.275,"v":0.0878},{"b":"A0-B2","s":"3.0","x":3.3,"v":0.0828},{"b":"A0-B2","s":"3.0","x":3.325,"v":0.0813},{"b":"A0-B2","s":"3.0","x":3.35,"v":0.0822},{"b":"A0-B2","s":"3.0","x":3.375,"v":0.0847},{"b":"A0-B2","s":"3.0","x":3.4,"v":0.0831},{"b":"A0-B2","s":"3.0","x":3.425,"v":0.0794},{"b":"A0-B2","s":"3.0","x":3.45,"v":0.0769},{"b":"A0-B2","s":"3.0","x":3.475,"v":0.0756},{"b":"A0-B2","s":"3.0","x":3.5,"v":0.0744},{"b":"A0-B2","s":"3.0","x":3.525,"v":0.0731},{"b":"A0-B2","s":"3.0","x":3.55,"v":0.0719},
{"b":"A0-B2","s":"10.0","x":3.2,"v":0.1088},{"b":"A0-B2","s":"10.0","x":3.225,"v":0.1047},{"b":"A0-B2","s":"10.0","x":3.25,"v":0.0947},{"b":"A0-B2","s":"10.0","x":3.275,"v":0.0828},{"b":"A0-B2","s":"10.0","x":3.3,"v":0.0769},{"b":"A0-B2","s":"10.0","x":3.325,"v":0.0753},{"b":"A0-B2","s":"10.0","x":3.35,"v":0.0769},{"b":"A0-B2","s":"10.0","x":3.375,"v":0.0806},{"b":"A0-B2","s":"10.0","x":3.4,"v":0.0797},{"b":"A0-B2","s":"10.0","x":3.425,"v":0.075},{"b":"A0-B2","s":"10.0","x":3.45,"v":0.0722},{"b":"A0-B2","s":"10.0","x":3.475,"v":0.0713},{"b":"A0-B2","s":"10.0","x":3.5,"v":0.0703},{"b":"A0-B2","s":"10.0","x":3.525,"v":0.0697},{"b":"A0-B2","s":"10.0","x":3.55,"v":0.0694},
{"b":"A0-B2","s":"5.0","x":3.2,"v":0.1088},{"b":"A0-B2","s":"5.0","x":3.225,"v":0.1047},{"b":"A0-B2","s":"5.0","x":3.25,"v":0.0947},{"b":"A0-B2","s":"5.0","x":3.275,"v":0.0828},{"b":"A0-B2","s":"5.0","x":3.3,"v":0.0769},{"b":"A0-B2","s":"5.0","x":3.325,"v":0.0753},{"b":"A0-B2","s":"5.0","x":3.35,"v":0.0769},{"b":"A0-B2","s":"5.0","x":3.375,"v":0.0806},{"b":"A0-B2","s":"5.0","x":3.4,"v":0.0797},{"b":"A0-B2","s":"5.0","x":3.425,"v":0.075},{"b":"A0-B2","s":"5.0","x":3.45,"v":0.0722},{"b":"A0-B2","s":"5.0","x":3.475,"v":0.0713},{"b":"A0-B2","s":"5.0","x":3.5,"v":0.0703},{"b":"A0-B2","s":"5.0","x":3.525,"v":0.0697},{"b":"A0-B2","s":"5.0","x":3.55,"v":0.0694}
]
},
"columns": 2,
"spacing": {"row": 90, "column": 93},
"bounds": "flush",
"resolve": {"legend": {"color": "independent"}},
"concat": [
{
"width": 464, "height": 224,
"title": {"text": "B2 − C1 (7.5 m, PA = 16.1°)", "offset": -32},
"encoding": {
"x": {"field": "x", "type": "quantitative", "scale": {"domain": [3.2, 3.55], "nice": false, "zero": false}, "axis": {"values": [3.2, 3.25, 3.3, 3.35, 3.4, 3.45, 3.5, 3.55], "labels": false, "title": null}},
"y": {"field": "v", "type": "quantitative", "title": "Visibility", "scale": {"domain": [0.3, 0.6], "nice": false, "zero": false}, "axis": {"values": [0.35, 0.45, 0.55], "format": ".2f"}}
},
"layer": [
{"data": {"name": "obs"}, "transform": [{"filter": "datum.b === 'B2-C1'"}], "mark": {"type": "rule", "color": "#a6cee3", "strokeWidth": 1.5, "clip": true}, "encoding": {"y": {"field": "lo", "type": "quantitative", "title": "Visibility", "scale": {"domain": [0.3, 0.6], "nice": false, "zero": false}}, "y2": {"field": "hi"}}},
{"data": {"name": "obs"}, "transform": [{"filter": "datum.b === 'B2-C1'"}], "mark": {"type": "line", "strokeWidth": 1.5, "clip": true}, "encoding": {"color": {"field": "s", "type": "nominal", "scale": {"domain": ["Data", "0.3", "1.0", "2.0", "3.0", "5.0", "10.0"], "range": ["#a6cee3", "#1f78b4", "#b2df8a", "#33a02c", "#fb9a99", "#e31a1c", "#fdbf6f"]}, "legend": {"title": ["C-CH disk", "\u00a0inner radii [au]:"], "encode": {"symbols": {"update": {"shape": {"signal": "datum.value === 'Data' ? 'M-1,0H1M0,-0.46V0.46' : 'M-1,0H1'"}}}}}}}},
{"data": {"name": "mod"}, "transform": [{"filter": "datum.b === 'B2-C1'"}], "mark": {"type": "line", "strokeWidth": 1.8, "interpolate": "monotone", "clip": true}, "encoding": {"color": {"field": "s", "type": "nominal", "scale": {"domain": ["Data", "0.3", "1.0", "2.0", "3.0", "5.0", "10.0"], "range": ["#a6cee3", "#1f78b4", "#b2df8a", "#33a02c", "#fb9a99", "#e31a1c", "#fdbf6f"]}, "legend": {"title": ["C-CH disk", "\u00a0inner radii [au]:"], "encode": {"symbols": {"update": {"shape": {"signal": "datum.value === 'Data' ? 'M-1,0H1M0,-0.46V0.46' : 'M-1,0H1'"}}}}}}}}
]
},
{
"width": 464, "height": 224,
"title": {"text": "D0 − C1 (15 m, PA = 16.2°)", "offset": -32},
"encoding": {
"x": {"field": "x", "type": "quantitative", "scale": {"domain": [3.2, 3.55], "nice": false, "zero": false}, "axis": {"values": [3.2, 3.25, 3.3, 3.35, 3.4, 3.45, 3.5, 3.55], "labels": false, "title": null}},
"y": {"field": "v", "type": "quantitative", "title": null, "scale": {"domain": [0, 0.21], "nice": false, "zero": false}, "axis": {"values": [0.05, 0.1, 0.15, 0.2], "format": ".2f"}}
},
"layer": [
{"data": {"name": "obs"}, "transform": [{"filter": "datum.b === 'D0-C1'"}], "mark": {"type": "rule", "color": "#a6cee3", "strokeWidth": 1.5, "clip": true}, "encoding": {"y": {"field": "lo", "type": "quantitative", "title": null, "scale": {"domain": [0, 0.21], "nice": false, "zero": false}}, "y2": {"field": "hi"}}},
{"data": {"name": "obs"}, "transform": [{"filter": "datum.b === 'D0-C1'"}], "mark": {"type": "line", "strokeWidth": 1.5, "clip": true}, "encoding": {"color": {"field": "s", "type": "nominal", "scale": {"domain": ["Data", "0.3", "1.0", "2.0", "3.0", "5.0", "10.0"], "range": ["#a6cee3", "#1f78b4", "#b2df8a", "#33a02c", "#fb9a99", "#e31a1c", "#fdbf6f"]}, "legend": null}}},
{"data": {"name": "mod"}, "transform": [{"filter": "datum.b === 'D0-C1'"}], "mark": {"type": "line", "strokeWidth": 1.8, "interpolate": "monotone", "clip": true}, "encoding": {"color": {"field": "s", "type": "nominal", "scale": {"domain": ["Data", "0.3", "1.0", "2.0", "3.0", "5.0", "10.0"], "range": ["#a6cee3", "#1f78b4", "#b2df8a", "#33a02c", "#fb9a99", "#e31a1c", "#fdbf6f"]}, "legend": null}}}
]
},
{
"width": 464, "height": 224,
"title": {"text": "A0 − C1 (22.2 m, PA = 118.5°)", "offset": -23},
"encoding": {
"x": {"field": "x", "type": "quantitative", "scale": {"domain": [3.2, 3.55], "nice": false, "zero": false}, "axis": {"values": [3.2, 3.25, 3.3, 3.35, 3.4, 3.45, 3.5, 3.55], "labels": false, "title": null}},
"y": {"field": "v", "type": "quantitative", "title": null, "scale": {"domain": [0, 0.22], "nice": false, "zero": false}, "axis": {"values": [0, 0.05, 0.1, 0.15, 0.2], "format": ".2f"}}
},
"layer": [
{"data": {"name": "obs"}, "transform": [{"filter": "datum.b === 'A0-C1'"}], "mark": {"type": "rule", "color": "#a6cee3", "strokeWidth": 1.5, "clip": true}, "encoding": {"y": {"field": "lo", "type": "quantitative", "title": null, "scale": {"domain": [0, 0.22], "nice": false, "zero": false}}, "y2": {"field": "hi"}}},
{"data": {"name": "obs"}, "transform": [{"filter": "datum.b === 'A0-C1'"}], "mark": {"type": "line", "strokeWidth": 1.5, "clip": true}, "encoding": {"color": {"field": "s", "type": "nominal", "scale": {"domain": ["Data", "0.3", "1.0", "2.0", "3.0", "5.0", "10.0"], "range": ["#a6cee3", "#1f78b4", "#b2df8a", "#33a02c", "#fb9a99", "#e31a1c", "#fdbf6f"]}, "legend": null}}},
{"data": {"name": "mod"}, "transform": [{"filter": "datum.b === 'A0-C1'"}], "mark": {"type": "line", "strokeWidth": 1.8, "interpolate": "monotone", "clip": true}, "encoding": {"color": {"field": "s", "type": "nominal", "scale": {"domain": ["Data", "0.3", "1.0", "2.0", "3.0", "5.0", "10.0"], "range": ["#a6cee3", "#1f78b4", "#b2df8a", "#33a02c", "#fb9a99", "#e31a1c", "#fdbf6f"]}, "legend": null}}}
]
},
{
"width": 464, "height": 224,
"title": {"text": "B2 − D0 (22.5 m, PA = 16.2°)", "offset": -23},
"encoding": {
"x": {"field": "x", "type": "quantitative", "scale": {"domain": [3.2, 3.55], "nice": false, "zero": false}, "axis": {"values": [3.2, 3.25, 3.3, 3.35, 3.4, 3.45, 3.5, 3.55], "labels": false, "title": null}},
"y": {"field": "v", "type": "quantitative", "title": null, "scale": {"domain": [0, 0.22], "nice": false, "zero": false}, "axis": {"values": [0, 0.05, 0.1, 0.15, 0.2], "format": ".2f"}}
},
"layer": [
{"data": {"name": "obs"}, "transform": [{"filter": "datum.b === 'B2-D0'"}], "mark": {"type": "rule", "color": "#a6cee3", "strokeWidth": 1.5, "clip": true}, "encoding": {"y": {"field": "lo", "type": "quantitative", "title": null, "scale": {"domain": [0, 0.22], "nice": false, "zero": false}}, "y2": {"field": "hi"}}},
{"data": {"name": "obs"}, "transform": [{"filter": "datum.b === 'B2-D0'"}], "mark": {"type": "line", "strokeWidth": 1.5, "clip": true}, "encoding": {"color": {"field": "s", "type": "nominal", "scale": {"domain": ["Data", "0.3", "1.0", "2.0", "3.0", "5.0", "10.0"], "range": ["#a6cee3", "#1f78b4", "#b2df8a", "#33a02c", "#fb9a99", "#e31a1c", "#fdbf6f"]}, "legend": null}}},
{"data": {"name": "mod"}, "transform": [{"filter": "datum.b === 'B2-D0'"}], "mark": {"type": "line", "strokeWidth": 1.8, "interpolate": "monotone", "clip": true}, "encoding": {"color": {"field": "s", "type": "nominal", "scale": {"domain": ["Data", "0.3", "1.0", "2.0", "3.0", "5.0", "10.0"], "range": ["#a6cee3", "#1f78b4", "#b2df8a", "#33a02c", "#fb9a99", "#e31a1c", "#fdbf6f"]}, "legend": null}}}
]
},
{
"width": 464, "height": 224,
"title": {"text": "A0 − D0 (24 m, PA = 80.9°)", "offset": -23},
"encoding": {
"x": {"field": "x", "type": "quantitative", "scale": {"domain": [3.2, 3.55], "nice": false, "zero": false}, "axis": {"values": [3.2, 3.25, 3.3, 3.35, 3.4, 3.45, 3.5, 3.55], "format": ".2f", "title": "λ [µm]"}},
"y": {"field": "v", "type": "quantitative", "title": null, "scale": {"domain": [0, 0.21], "nice": false, "zero": false}, "axis": {"values": [0.05, 0.1, 0.15], "format": ".2f"}}
},
"layer": [
{"data": {"name": "obs"}, "transform": [{"filter": "datum.b === 'A0-D0'"}], "mark": {"type": "rule", "color": "#a6cee3", "strokeWidth": 1.5, "clip": true}, "encoding": {"y": {"field": "lo", "type": "quantitative", "title": null, "scale": {"domain": [0, 0.21], "nice": false, "zero": false}}, "y2": {"field": "hi"}}},
{"data": {"name": "obs"}, "transform": [{"filter": "datum.b === 'A0-D0'"}], "mark": {"type": "line", "strokeWidth": 1.5, "clip": true}, "encoding": {"color": {"field": "s", "type": "nominal", "scale": {"domain": ["Data", "0.3", "1.0", "2.0", "3.0", "5.0", "10.0"], "range": ["#a6cee3", "#1f78b4", "#b2df8a", "#33a02c", "#fb9a99", "#e31a1c", "#fdbf6f"]}, "legend": null}}},
{"data": {"name": "mod"}, "transform": [{"filter": "datum.b === 'A0-D0'"}], "mark": {"type": "line", "strokeWidth": 1.8, "interpolate": "monotone", "clip": true}, "encoding": {"color": {"field": "s", "type": "nominal", "scale": {"domain": ["Data", "0.3", "1.0", "2.0", "3.0", "5.0", "10.0"], "range": ["#a6cee3", "#1f78b4", "#b2df8a", "#33a02c", "#fb9a99", "#e31a1c", "#fdbf6f"]}, "legend": null}}}
]
},
{
"width": 464, "height": 224,
"title": {"text": "A0 − B2 (24.9 m, PA = 135.6°)", "offset": -23},
"encoding": {
"x": {"field": "x", "type": "quantitative", "scale": {"domain": [3.2, 3.55], "nice": false, "zero": false}, "axis": {"values": [3.2, 3.25, 3.3, 3.35, 3.4, 3.45, 3.5, 3.55], "format": ".2f", "title": "λ [µm]"}},
"y": {"field": "v", "type": "quantitative", "title": null, "scale": {"domain": [0, 0.21], "nice": false, "zero": false}, "axis": {"values": [0.05, 0.1, 0.15], "format": ".2f"}}
},
"layer": [
{"data": {"name": "obs"}, "transform": [{"filter": "datum.b === 'A0-B2'"}], "mark": {"type": "rule", "color": "#a6cee3", "strokeWidth": 1.5, "clip": true}, "encoding": {"y": {"field": "lo", "type": "quantitative", "title": null, "scale": {"domain": [0, 0.21], "nice": false, "zero": false}}, "y2": {"field": "hi"}}},
{"data": {"name": "obs"}, "transform": [{"filter": "datum.b === 'A0-B2'"}], "mark": {"type": "line", "strokeWidth": 1.5, "clip": true}, "encoding": {"color": {"field": "s", "type": "nominal", "scale": {"domain": ["Data", "0.3", "1.0", "2.0", "3.0", "5.0", "10.0"], "range": ["#a6cee3", "#1f78b4", "#b2df8a", "#33a02c", "#fb9a99", "#e31a1c", "#fdbf6f"]}, "legend": null}}},
{"data": {"name": "mod"}, "transform": [{"filter": "datum.b === 'A0-B2'"}], "mark": {"type": "line", "strokeWidth": 1.8, "interpolate": "monotone", "clip": true}, "encoding": {"color": {"field": "s", "type": "nominal", "scale": {"domain": ["Data", "0.3", "1.0", "2.0", "3.0", "5.0", "10.0"], "range": ["#a6cee3", "#1f78b4", "#b2df8a", "#33a02c", "#fb9a99", "#e31a1c", "#fdbf6f"]}, "legend": null}}}
]
}
],
"config": {
"font": "DejaVu Sans",
"view": {"stroke": "#dddddd", "strokeWidth": 1.2},
"axis": {"domain": false, "grid": false, "ticks": true, "tickColor": "#333333", "tickSize": 6, "tickWidth": 1.2, "labelFont": "DejaVu Sans", "labelFontSize": 17.5, "labelColor": "#262626", "labelFlush": false, "labelOverlap": false, "labelBound": false, "titleFont": "DejaVu Sans", "titleFontSize": 18, "titleFontWeight": "normal", "titleColor": "#262626"},
"axisX": {"labelPadding": 3, "titlePadding": 5},
"axisY": {"labelPadding": 5, "titlePadding": 7},
"title": {"font": "DejaVu Sans", "fontSize": 15, "fontWeight": "normal", "color": "#1a1a1a", "anchor": "start", "frame": "group", "baseline": "middle", "orient": "top", "dx": 225},
"legend": {"orient": "none", "legendX": -149, "legendY": 218, "fillColor": "white", "strokeColor": "#cccccc", "cornerRadius": 3, "padding": 5, "titleFont": "DejaVu Sans", "titleFontSize": 10, "titleFontWeight": "normal", "titleColor": "#222222", "titleLineHeight": 12, "titlePadding": 6, "labelFont": "DejaVu Sans", "labelFontSize": 10.5, "labelColor": "#222222", "symbolType": "stroke", "symbolSize": 576, "symbolStrokeWidth": 1.5, "symbolOffset": 11, "labelOffset": 10, "rowPadding": 6}
}
}
